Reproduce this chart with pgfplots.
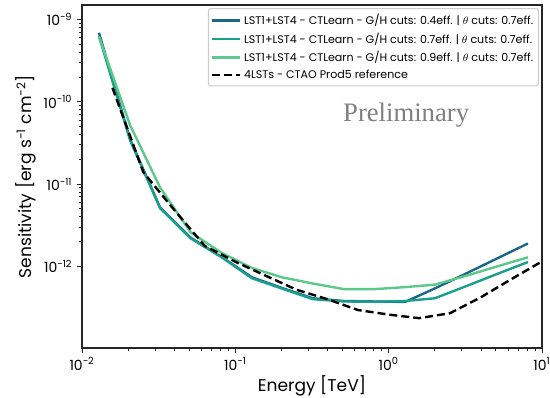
\documentclass[border=0pt]{standalone}
\usepackage{pgfplots}
\pgfplotsset{compat=1.18}
\usepackage{fontspec}
\setmainfont{Poppins}
\newfontfamily\serifprelim{Liberation Serif}
\definecolor{cA}{RGB}{28,102,136}
\definecolor{cB}{RGB}{24,160,140}
\definecolor{cC}{RGB}{92,200,138}
\begin{document}
\begin{tikzpicture}
\begin{axis}[
  scale only axis,
  width=345pt, height=257.25pt,
  xmode=log, ymode=log,
  xmin=0.01, xmax=10,
  ymin=1.02e-13, ymax=1.5e-9,
  axis line style={black!85, line width=0.8pt},
  tick align=outside,
  xtick pos=bottom, ytick pos=left,
  major tick length=3.75pt, minor tick length=2.2pt,
  every tick/.style={black!85, line width=0.6pt},
  xtick={0.01,0.1,1,10},
  xticklabels={10\textsuperscript{−2},10\textsuperscript{−1},10\textsuperscript{0},10\textsuperscript{1}},
  ytick={1e-12,1e-11,1e-10,1e-9},
  yticklabels={10\textsuperscript{−12},10\textsuperscript{−11},10\textsuperscript{−10},10\textsuperscript{−9}},
  ticklabel style={font=\fontsize{10.5}{12}\selectfont},
  label style={font=\fontsize{12.8}{14}\selectfont},
  xlabel={Energy [TeV]},
  ylabel={Sensitivity [erg s\textsuperscript{−1} cm\textsuperscript{−2}]},
  xlabel style={yshift=3pt},
  ylabel style={yshift=-1pt},
  legend cell align=left,
  legend image code/.code={\draw[#1] (0pt,0pt) -- (21pt,0pt);},
  legend style={at={(axis description cs:1,1)}, anchor=north east,
    xshift=-2.25pt, yshift=-2.25pt, draw=black!20, line width=0.8pt,
    rounded corners=2pt, fill=white,
    font=\fontsize{8.3}{9.4}\selectfont, row sep=0.6pt,
    inner xsep=2pt, inner ysep=2.2pt},
]
\addplot[cA, line width=1.8pt] coordinates {
(0.0129,6.9e-10) (0.0206,3.5e-11) (0.0323,5.2e-12) (0.051,2.24e-12)
(0.081,1.31e-12) (0.128,7.4e-13) (0.2,5.5e-13) (0.32,4.1e-13)
(0.51,3.8e-13) (0.81,3.75e-13) (1.28,3.7e-13) (2.0,5.4e-13)
(3.2,8.2e-13) (5.1,1.25e-12) (8.1,1.9e-12)};
\addlegendentry{LST1+LST4 - CTLearn - G/H cuts: 0.4eff. | $\theta$ cuts: 0.7eff.}
\addplot[cB, line width=1.8pt] coordinates {
(0.0129,6.3e-10) (0.0206,3.4e-11) (0.0323,5.1e-12) (0.051,2.2e-12)
(0.081,1.3e-12) (0.128,7.2e-13) (0.2,5.4e-13) (0.32,4.0e-13)
(0.51,3.75e-13) (0.81,3.72e-13) (1.28,3.8e-13) (2.0,4.1e-13)
(3.2,5.75e-13) (5.1,8.1e-13) (8.1,1.13e-12)};
\addlegendentry{LST1+LST4 - CTLearn - G/H cuts: 0.7eff. | $\theta$ cuts: 0.7eff.}
\addplot[cC, line width=1.8pt] coordinates {
(0.0129,6.2e-10) (0.0206,5.2e-11) (0.0323,9.1e-12) (0.051,2.6e-12)
(0.081,1.47e-12) (0.128,9.6e-13) (0.2,7.4e-13) (0.32,6.2e-13)
(0.51,5.3e-13) (0.81,5.3e-13) (1.28,5.6e-13) (2.0,6.0e-13)
(3.2,7.7e-13) (5.1,1.0e-12) (8.1,1.29e-12)};
\addlegendentry{LST1+LST4 - CTLearn - G/H cuts: 0.9eff. | $\theta$ cuts: 0.7eff.}
\addplot[black, line width=1.8pt, dash pattern=on 6pt off 3pt] coordinates {
(0.0158,1.48e-10) (0.0251,1.4e-11) (0.0398,4.9e-12) (0.0631,1.78e-12)
(0.1,1.14e-12) (0.158,7.7e-13) (0.251,5.2e-13) (0.398,4.0e-13)
(0.631,2.95e-13) (1.0,2.6e-13) (1.58,2.35e-13) (2.51,2.7e-13)
(3.98,4.2e-13) (6.31,7.0e-13) (10.0,1.15e-12)};
\addlegendentry{4LSTs - CTAO Prod5 reference}
\node[font=\serifprelim\fontsize{20}{22}\selectfont, text=black!50] at (axis cs:1.3,6.8e-11) {Preliminary};
\end{axis}
\pgfresetboundingbox
\path ([shift={(-61.5pt,-37.5pt)}]current axis.south west) rectangle ([shift={(6pt,3.75pt)}]current axis.north east);
\end{tikzpicture}
\end{document}
